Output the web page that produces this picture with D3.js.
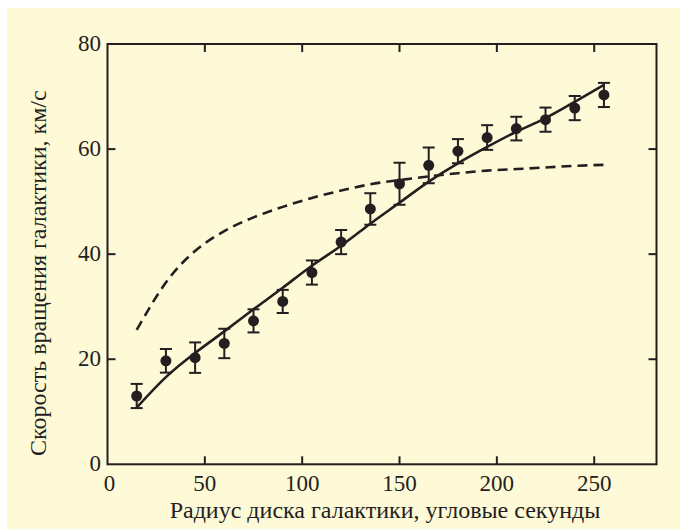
<!DOCTYPE html>
<html>
<head>
<meta charset="utf-8">
<script src="https://cdn.jsdelivr.net/npm/d3@7"></script>
<style>
  body { margin: 0; background: #fff; }
</style>
</head>
<body>
<svg id="chart"></svg>
<script>
// observed points (radius, arcsec) and rotation speed (km/s)
var radius = [15, 30, 45, 60, 75, 90, 105, 120, 135, 150, 165, 180, 195, 210, 225, 240, 255];
var speed  = [13.0, 19.7, 20.3, 23.0, 27.3, 31.0, 36.5, 42.3, 48.6, 53.4, 56.9, 59.6, 62.2, 63.9, 65.6, 67.8, 70.3];
var errors = [2.3, 2.25, 2.9, 2.8, 2.2, 2.2, 2.3, 2.3, 3.0, 4.0, 3.4, 2.3, 2.35, 2.25, 2.3, 2.3, 2.3];

// fitted curve (solid) and expected curve (dashed)
var fitSpeed  = [10.8, 16.6, 21.2, 25.3, 29.5, 33.6, 37.8, 41.6, 45.8, 49.8, 53.8, 57.3, 60.4, 63.3, 65.9, 69.0, 72.2];
var expSpeed  = [25.6, 34.6, 40.6, 44.4, 47.0, 49.0, 50.7, 52.1, 53.3, 54.1, 54.8, 55.4, 55.9, 56.2, 56.5, 56.8, 57.0];

var xTicks = [0, 50, 100, 150, 200, 250];
var yTicks = [0, 20, 40, 60, 80];

var width = 680, height = 531;
var ink = "#231f20";
var serif = "Liberation Serif";

var svg = d3.select("#chart").attr("width", width).attr("height", height);

// cream panel
svg.append("rect")
  .attr("x", 7).attr("y", 8)
  .attr("width", width - 7).attr("height", 521)
  .attr("fill", "#fef9d7");

var x = d3.scaleLinear().domain([0, 282]).range([107.5, 656.5]);
var y = d3.scaleLinear().domain([0, 80]).range([464.3, 44]);

var g = svg.append("g");

// frame
g.append("rect")
  .attr("x", x(0)).attr("y", y(80))
  .attr("width", x(282) - x(0)).attr("height", y(0) - y(80))
  .attr("fill", "none").attr("stroke", ink).attr("stroke-width", 2);

// inward ticks on all four sides
var tickLen = 8;
var innerX = xTicks.filter(d => d > 0);
var innerY = yTicks.filter(d => d > 0 && d < 80);

g.selectAll(".tb").data(innerX).enter().append("line")
  .attr("x1", d => x(d)).attr("x2", d => x(d))
  .attr("y1", y(0)).attr("y2", y(0) - tickLen)
  .attr("stroke", ink).attr("stroke-width", 2);
g.selectAll(".tt").data(innerX).enter().append("line")
  .attr("x1", d => x(d)).attr("x2", d => x(d))
  .attr("y1", y(80)).attr("y2", y(80) + tickLen)
  .attr("stroke", ink).attr("stroke-width", 2);
g.selectAll(".tl").data(innerY).enter().append("line")
  .attr("x1", x(0)).attr("x2", x(0) + tickLen)
  .attr("y1", d => y(d)).attr("y2", d => y(d))
  .attr("stroke", ink).attr("stroke-width", 2);
g.selectAll(".tr").data(innerY).enter().append("line")
  .attr("x1", x(282)).attr("x2", x(282) - tickLen)
  .attr("y1", d => y(d)).attr("y2", d => y(d))
  .attr("stroke", ink).attr("stroke-width", 2);

// tick labels
g.selectAll(".xl").data(xTicks).enter().append("text")
  .attr("x", d => x(d) + (d === 0 ? 2 : 0))
  .attr("y", 491)
  .attr("text-anchor", "middle")
  .attr("fill", ink)
  .style("font-family", serif)
  .style("font-size", "23px")
  .text(d => d);
g.selectAll(".yl").data(yTicks).enter().append("text")
  .attr("x", 101)
  .attr("y", d => y(d) + 7)
  .attr("text-anchor", "end")
  .attr("fill", ink)
  .style("font-family", serif)
  .style("font-size", "23px")
  .text(d => d);

// axis titles
svg.append("text")
  .attr("x", 385).attr("y", 518)
  .attr("text-anchor", "middle")
  .attr("fill", ink)
  .style("font-family", serif)
  .style("font-size", "24px")
  .text("Радиус диска галактики, угловые секунды");
svg.append("text")
  .attr("transform", "translate(46," + ((y(0) + 70) / 2 + 6) + ") rotate(-90)")
  .attr("text-anchor", "middle")
  .attr("fill", ink)
  .style("font-family", serif)
  .style("font-size", "24px")
  .text("Скорость вращения галактики, км/с");

// curves
var line = d3.line().curve(d3.curveNatural)
  .x(d => x(d[0])).y(d => y(d[1]));

g.append("path")
  .datum(d3.zip(radius, expSpeed))
  .attr("d", line)
  .attr("fill", "none").attr("stroke", ink)
  .attr("stroke-width", 2.6)
  .attr("stroke-dasharray", "10,6");

g.append("path")
  .datum(d3.zip(radius, fitSpeed))
  .attr("d", line)
  .attr("fill", "none").attr("stroke", ink)
  .attr("stroke-width", 2.6);

// error bars and points
var pts = g.selectAll(".pt").data(d3.zip(radius, speed, errors)).enter().append("g");
pts.append("line")
  .attr("x1", d => x(d[0])).attr("x2", d => x(d[0]))
  .attr("y1", d => y(d[1] - d[2])).attr("y2", d => y(d[1] + d[2]))
  .attr("stroke", ink).attr("stroke-width", 2);
pts.append("line")
  .attr("x1", d => x(d[0]) - 6).attr("x2", d => x(d[0]) + 6)
  .attr("y1", d => y(d[1] + d[2])).attr("y2", d => y(d[1] + d[2]))
  .attr("stroke", ink).attr("stroke-width", 2);
pts.append("line")
  .attr("x1", d => x(d[0]) - 6).attr("x2", d => x(d[0]) + 6)
  .attr("y1", d => y(d[1] - d[2])).attr("y2", d => y(d[1] - d[2]))
  .attr("stroke", ink).attr("stroke-width", 2);
pts.append("circle")
  .attr("cx", d => x(d[0])).attr("cy", d => y(d[1]))
  .attr("r", 5.5)
  .attr("fill", ink);
</script>
</body>
</html>
